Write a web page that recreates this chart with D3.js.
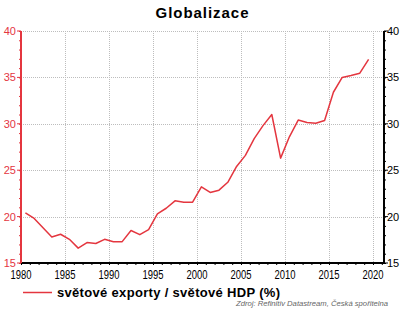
<!DOCTYPE html>
<html>
<head>
<meta charset="utf-8">
<script src="https://cdn.jsdelivr.net/npm/d3@7"></script>
<style>
body { margin: 0; background: #fff; }
svg { display: block; font-family: "Liberation Sans", Arial, sans-serif; }
</style>
</head>
<body>
<svg class="chart"></svg>
<script>
var years = d3.range(1980, 2020);
var exportShare = [
    20.4, 19.8, 18.8, 17.8, 18.1, 17.55, 16.6, 17.2, 17.1, 17.55,
    17.3, 17.3, 18.5, 18.05, 18.6, 20.3, 20.9, 21.7, 21.55, 21.55,
    23.2, 22.6, 22.85, 23.7, 25.4, 26.6, 28.4, 29.8, 31.0, 26.3,
    28.6, 30.4, 30.15, 30.05, 30.35, 33.4, 35.0, 35.2, 35.45, 36.95
];
var xTicks = [1980, 1985, 1990, 1995, 2000, 2005, 2010, 2015, 2020];
var yTicks = [15, 20, 25, 30, 35, 40];
var seriesName = "světové exporty / světové HDP (%)";
var titleText = "Globalizace";
var sourceText = "Zdroj: Refinitiv Datastream, Česká spořitelna";

var red = "#e4363f";
var outerSize = {width: 405, height: 315};
var plot = {left: 21, right: 384, top: 31, bottom: 263};

var svg = d3.select(".chart")
        .attr("width", outerSize.width)
        .attr("height", outerSize.height);

var xRange = d3.scaleLinear()
        .domain([1980, 2021.25])
        .range([plot.left, plot.right]);
var yRange = d3.scaleLinear()
        .domain([15, 40])
        .range([plot.bottom, plot.top]);

svg.append("text")
        .attr("x", 202)
        .attr("y", 18)
        .attr("textLength", 93)
        .attr("lengthAdjust", "spacing")
        .style("text-anchor", "middle")
        .style("font-size", "15px")
        .style("font-weight", "bold")
        .text(titleText);

// grid
var grid = svg.append("g").attr("stroke", "#bdbdbd").attr("stroke-width", 1).attr("stroke-dasharray", "1,1");
grid.selectAll(".vgrid")
        .data(xTicks.slice(1))
        .enter().append("line")
        .attr("x1", function (d) { return Math.round(xRange(d)) + 0.5; })
        .attr("x2", function (d) { return Math.round(xRange(d)) + 0.5; })
        .attr("y1", plot.top)
        .attr("y2", plot.bottom);
grid.selectAll(".hgrid")
        .data(yTicks.slice(1))
        .enter().append("line")
        .attr("x1", plot.left)
        .attr("x2", plot.right)
        .attr("y1", function (d) { return Math.round(yRange(d)) + 0.5; })
        .attr("y2", function (d) { return Math.round(yRange(d)) + 0.5; });

// bottom axis
var xAxis = svg.append("g")
        .attr("transform", "translate(0," + plot.bottom + ")")
        .call(d3.axisBottom(xRange).tickValues(d3.range(1980, 2022)).tickSize(2).tickFormat(""));
xAxis.select(".domain").attr("stroke", "#000").attr("stroke-width", 2).attr("d", "M" + plot.left + ",0H" + plot.right);
xAxis.selectAll("line").attr("stroke", "#000");
xAxis.selectAll(".xlabel")
        .data(xTicks)
        .enter().append("text")
        .attr("x", function (d) { return xRange(d); })
        .attr("y", 16)
        .attr("textLength", 21)
        .attr("lengthAdjust", "spacingAndGlyphs")
        .style("text-anchor", "middle")
        .style("font-size", "12px")
        .attr("fill", "#000")
        .text(function (d) { return d; });

// left axis (red)
var leftAxis = svg.append("g")
        .attr("transform", "translate(" + plot.left + ",0)")
        .call(d3.axisLeft(yRange).tickValues(d3.range(15, 41)).tickSize(2).tickFormat(""));
leftAxis.select(".domain").attr("stroke", red).attr("stroke-width", 2).attr("d", "M0," + plot.top + "V" + plot.bottom);
leftAxis.selectAll("line").attr("stroke", red);
leftAxis.selectAll(".major")
        .data(yTicks)
        .enter().append("line")
        .attr("x1", -4).attr("x2", 0)
        .attr("y1", function (d) { return yRange(d); })
        .attr("y2", function (d) { return yRange(d); })
        .attr("stroke", red);
leftAxis.selectAll(".ylabel")
        .data(yTicks)
        .enter().append("text")
        .attr("x", -5)
        .attr("y", function (d) { return yRange(d) + 4; })
        .style("text-anchor", "end")
        .style("font-size", "11px")
        .attr("fill", red)
        .text(function (d) { return d; });

// right axis
var rightAxis = svg.append("g")
        .attr("transform", "translate(" + plot.right + ",0)")
        .call(d3.axisRight(yRange).tickValues(d3.range(15, 41)).tickSize(2).tickFormat(""));
rightAxis.select(".domain").attr("stroke", "#000").attr("stroke-width", 2).attr("d", "M0," + plot.top + "V" + plot.bottom);
rightAxis.selectAll("line").attr("stroke", "#000");
rightAxis.selectAll(".major")
        .data(yTicks)
        .enter().append("line")
        .attr("x1", 0).attr("x2", 4)
        .attr("y1", function (d) { return yRange(d); })
        .attr("y2", function (d) { return yRange(d); })
        .attr("stroke", "#000");
rightAxis.selectAll(".ylabel")
        .data(yTicks)
        .enter().append("text")
        .attr("x", 3)
        .attr("y", function (d) { return yRange(d) + 4; })
        .style("font-size", "11px")
        .attr("fill", "#000")
        .text(function (d) { return d; });

// series line
var line = d3.line()
        .x(function (d, i) { return xRange(years[i] + 0.5); })
        .y(function (d) { return yRange(d); });
svg.append("path")
        .datum(exportShare)
        .attr("d", line)
        .attr("fill", "none")
        .attr("stroke", red)
        .attr("stroke-width", 1.5)
        .attr("stroke-linejoin", "round");

// legend
svg.append("line")
        .attr("x1", 23).attr("x2", 52)
        .attr("y1", 292.5).attr("y2", 292.5)
        .attr("stroke", red)
        .attr("stroke-width", 1.5);
svg.append("text")
        .attr("x", 57)
        .attr("y", 297)
        .attr("textLength", 223)
        .attr("lengthAdjust", "spacing")
        .style("font-size", "13px")
        .style("font-weight", "bold")
        .text(seriesName);

svg.append("text")
        .attr("x", 388)
        .attr("y", 306)
        .attr("textLength", 152)
        .attr("lengthAdjust", "spacingAndGlyphs")
        .style("text-anchor", "end")
        .style("font-size", "7.5px")
        .style("font-style", "italic")
        .attr("fill", "#666")
        .text(sourceText);
</script>
</body>
</html>
